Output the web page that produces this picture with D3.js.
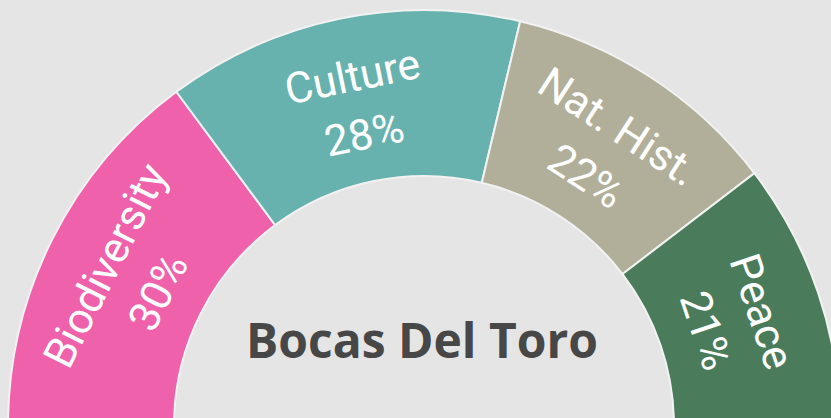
<!DOCTYPE html>
<html>
<head>
<meta charset="utf-8">
<script src="https://cdn.jsdelivr.net/npm/d3@7"></script>
<style>
  html, body { margin: 0; padding: 0; background: #e5e5e5; overflow: hidden; }
</style>
</head>
<body>
<div id="chart"></div>
<script>
const categories = ["Biodiversity", "Culture", "Nat. Hist.", "Peace"];
const shares = [30, 28, 22, 21];
const colors = ["#ef62ab", "#67b2ae", "#b1af99", "#4a7c5b"];
const title = "Bocas Del Toro";

const width = 831, height = 418;
const cx = 424, cy = 426;
const outerR = 416, innerR = 250;

const svg = d3.select("#chart").append("svg")
    .attr("width", width)
    .attr("height", height)
    .style("background", "#e5e5e5");

const g = svg.append("g").attr("transform", "translate(" + cx + "," + cy + ")");

const pie = d3.pie()
    .sort(null)
    .startAngle(-Math.PI / 2)
    .endAngle(Math.PI / 2);

const arc = d3.arc().innerRadius(innerR).outerRadius(outerR);

const data = categories.map(function(c, i) { return { name: c, value: shares[i], color: colors[i] }; });
const slices = pie.value(function(d) { return d.value; })(data);

g.selectAll("path")
    .data(slices)
    .enter().append("path")
    .attr("d", arc)
    .attr("fill", function(d) { return d.data.color; })
    .attr("stroke", "#f2f2f2")
    .attr("stroke-width", 2);

// labels rotated along the arc
function place(d, r) {
    const a = (d.startAngle + d.endAngle) / 2;
    const x = r * Math.sin(a), y = -r * Math.cos(a);
    return "translate(" + x + "," + y + ") rotate(" + (a * 180 / Math.PI) + ")";
}

const labels = g.selectAll("g.label")
    .data(slices)
    .enter().append("g")
    .attr("class", "label");

labels.append("text")
    .attr("transform", function(d) { return place(d, 357); })
    .attr("text-anchor", "middle")
    .attr("dominant-baseline", "central")
    .style("font-family", "Roboto, sans-serif")
    .style("font-size", "43px")
    .attr("fill", "#ffffff")
    .text(function(d) { return d.data.name; });

labels.append("text")
    .attr("transform", function(d) { return place(d, 298); })
    .attr("text-anchor", "middle")
    .attr("dominant-baseline", "central")
    .style("font-family", "Roboto, sans-serif")
    .style("font-size", "43px")
    .attr("fill", "#ffffff")
    .text(function(d) { return d.data.value + "%"; });

svg.append("text")
    .attr("x", cx - 2)
    .attr("y", 358)
    .attr("text-anchor", "middle")
    .style("font-family", "'Open Sans', sans-serif")
    .style("font-weight", "bold")
    .style("font-size", "48px")
    .attr("fill", "#474747")
    .text(title);
</script>
</body>
</html>
